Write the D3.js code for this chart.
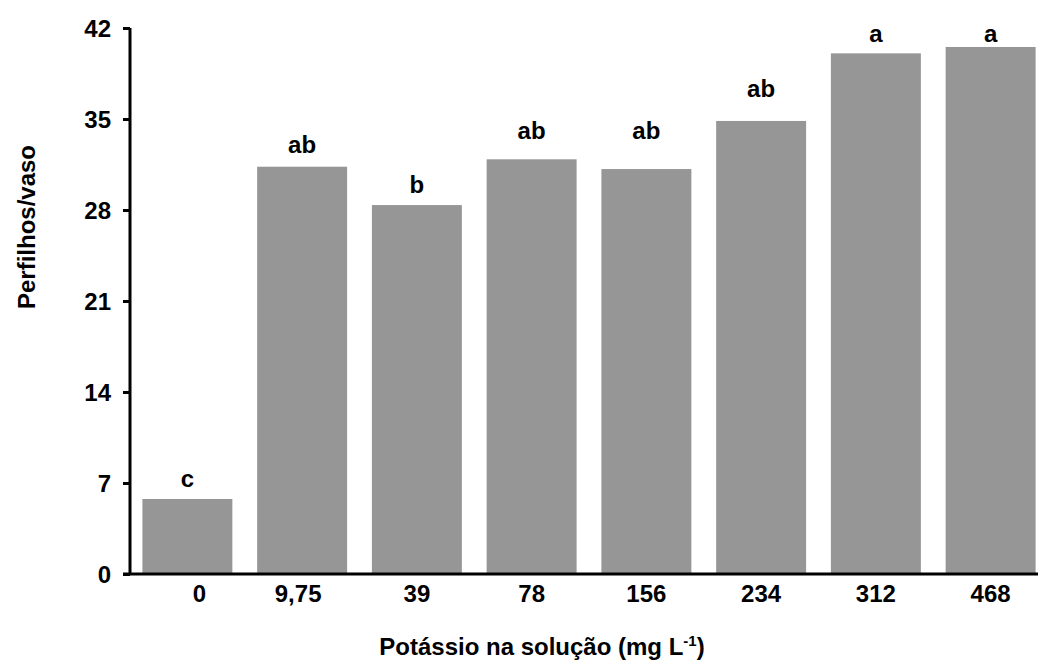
<!DOCTYPE html>
<html>
<head>
<meta charset="utf-8">
<script src="https://cdnjs.cloudflare.com/ajax/libs/d3/7.8.5/d3.min.js"></script>
<style>
  body { margin: 0; background: #fff; }
  text { font-family: "Liberation Sans", Arial, sans-serif; font-weight: bold; fill: #000; }
</style>
</head>
<body>
<div id="chart"></div>
<script>
// categories (K dose, mg/L) and tillers per pot
var doses = ["0", "9,75", "39", "78", "156", "234", "312", "468"];
var tillers = [5.77, 31.33, 28.38, 31.9, 31.15, 34.85, 40.05, 40.54];
// Tukey letters and the level (in tillers) where each one sits
var letters = ["c", "ab", "b", "ab", "ab", "ab", "a", "a"];
var letterLevel = [6.7, 32.4, 29.3, 33.5, 33.5, 36.7, 40.9, 40.9];
var yTicks = [0, 7, 14, 21, 28, 35, 42];

var W = 1038, H = 664;
var FS = "24px";
var svg = d3.select("#chart").append("svg")
  .attr("width", W).attr("height", H);

// scales
var x = d3.scaleBand()
  .domain(doses)
  .range([130, 1048])
  .paddingInner(0.216)
  .paddingOuter(0.108);

var y = d3.scaleLinear()
  .domain([0, 42])
  .range([574, 28]);

// bars
svg.selectAll("rect.bar")
  .data(tillers)
  .enter()
  .append("rect")
    .attr("class", "bar")
    .attr("x", function (d, i) { return x(doses[i]); })
    .attr("y", function (d) { return y(d); })
    .attr("width", x.bandwidth())
    .attr("height", function (d) { return y(0) - y(d); })
    .style("fill", "#969696");

// significance letters above bars
svg.selectAll("text.letter")
  .data(letters)
  .enter()
  .append("text")
    .attr("class", "letter")
    .attr("x", function (d, i) { return x(doses[i]) + x.bandwidth() / 2; })
    .attr("y", function (d, i) { return y(letterLevel[i]); })
    .attr("text-anchor", "middle")
    .style("font-size", FS)
    .text(function (d) { return d; });

// y axis
var yAxis = d3.axisLeft(y)
  .tickValues(yTicks)
  .tickSize(7)
  .tickPadding(12);

var gy = svg.append("g")
  .attr("transform", "translate(130,0)")
  .call(yAxis);
gy.select(".domain").attr("d", "M0," + y(42) + "V" + y(0))
  .style("stroke", "#000").style("stroke-width", 3);
gy.selectAll(".tick line").style("stroke", "#000").style("stroke-width", 3);
gy.selectAll(".tick text")
  .style("font-size", FS)
  .style("font-family", "'Liberation Sans', Arial, sans-serif")
  .style("font-weight", "bold")
  .attr("dy", "0.36em");

// x axis (no ticks, labels only)
var xAxis = d3.axisBottom(x).tickSize(0).tickPadding(10);
var gx = svg.append("g")
  .attr("transform", "translate(0," + y(0) + ")")
  .call(xAxis);
gx.select(".domain").attr("d", "M123,0H1038")
  .style("stroke", "#000").style("stroke-width", 3);
gx.selectAll(".tick text")
  .style("font-size", FS)
  .style("font-family", "'Liberation Sans', Arial, sans-serif")
  .style("font-weight", "bold")
  .attr("dy", "0.75em")
  .attr("dx", function (d, i) { return i === 0 ? 12 : (i === 1 ? -4 : 0); });

// axis titles
svg.append("text")
  .attr("transform", "translate(35,227) rotate(-90)")
  .attr("text-anchor", "middle")
  .style("font-size", FS)
  .text("Perfilhos/vaso");

var xt = svg.append("text")
  .attr("x", 542)
  .attr("y", 655)
  .attr("text-anchor", "middle")
  .style("font-size", FS);
xt.append("tspan").text("Potássio na solução (mg L");
xt.append("tspan").attr("dy", -9).style("font-size", "15px").text("-1");
xt.append("tspan").attr("dy", 9).text(")");
</script>
</body>
</html>
